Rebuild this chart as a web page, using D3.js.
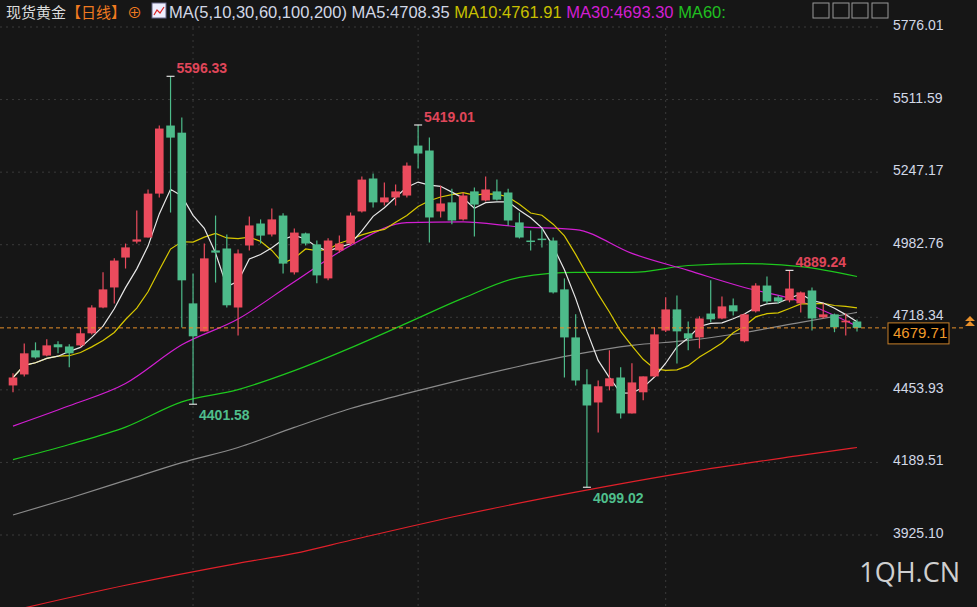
<!DOCTYPE html>
<html>
<head>
<meta charset="utf-8">
<script src="https://cdn.jsdelivr.net/npm/d3@7"></script>
<style>
  html, body { margin: 0; padding: 0; background: #161616; overflow: hidden; }
  svg { display: block; font-family: "Liberation Sans", Arial, sans-serif; }
</style>
</head>
<body>
<div id="chart"></div>
<script>
// OHLC per day
const opens  = [4470,4510,4598,4579,4620,4612,4616,4660,4754,4827,4936,4994,5009,5169,5417,5391,4769,4667,4962,4969,4754,4980,5060,5020,5089,4882,5024,4984,4860,4962,4987,5104,5224,5137,5155,5162,5344,5326,5104,5137,5075,5177,5144,5177,5173,5064,4998,5005,4998,4820,4645,4474,4408,4467,4499,4368,4445,4503,4670,4747,4660,4645,4732,4714,4762,4631,4740,4834,4791,4780,4769,4816,4718,4729,4700,4703];
const highs  = [4514,4623,4627,4638,4631,4620,4681,4762,4882,4933,4987,5107,5184,5417,5596.33,5446,4878,4987,5089,5020,4965,5086,5075,5115,5097,5042,5027,4998,5006,5016,5100,5231,5242,5209,5202,5282,5419.01,5373,5198,5187,5173,5191,5231,5220,5187,5100,5035,5042,5009,4860,4729,4529,4488,4598,4536,4551,4503,4681,4791,4798,4703,4722,4853,4794,4787,4732,4842,4867,4798,4889.24,4812,4827,4769,4732,4732,4710];
const lows   = [4445,4503,4568,4576,4587,4536,4609,4656,4751,4769,4896,4987,5009,5155,5100,4681,4401.58,4667,4845,4754,4652,4962,4987,5013,4878,4874,4980,4842,4853,4954,4980,5100,5118,5126,5126,5155,5260,4991,5082,5057,5071,5013,5140,5144,5053,5005,4962,4973,4805,4499,4470,4099.02,4299,4452,4350,4368,4416,4500,4665,4550,4598,4605,4700,4711,4725,4627,4736,4769,4769,4773,4736,4670,4714,4664,4652,4667];
const closes = [4499,4587,4572,4616,4609,4587,4660,4754,4820,4925,4973,5002,5169,5406,5373,4853,4649,4933,4954,4762,4951,5053,5016,5075,4914,5027,4987,4871,4998,4987,5089,5220,5137,5155,5177,5271,5315,5082,5133,5071,5162,5129,5184,5147,5071,5009,4994,5000,4809,4645,4488,4397,4467,4496,4368,4481,4503,4656,4747,4667,4641,4714,4711,4758,4740,4729,4834,4776,4776,4823,4809,4714,4729,4682,4706,4679.71];

// long moving averages, read every 5 bars
const maIdx   = [0,5,10,15,20,25,30,35,40,45,50,55,60,65,70,75];
const ma30    = [4322,4396,4477,4618,4712,4848,4980,5063,5066,5048,5038,4951,4889,4827,4776,4686];
const ma60    = [4200,4255,4318,4410,4455,4524,4607,4697,4788,4864,4882,4882,4907,4914,4903,4867];
const ma100   = [3998,4059,4124,4189,4244,4317,4386,4441,4492,4540,4583,4616,4634,4663,4700,4736];
const ma200Idx = [0,10,20,25,30,40,50,60,70,75];
const ma200   = [3650,3742,3822,3858,3906,3999,4081,4154,4215,4244];

const yTicks = [5776.01,5511.59,5247.17,4982.76,4718.34,4453.93,4189.51,3925.10];
const vLines = [16, 36, 58];
const extremes = [
  {i: 14, v: 5596.33, up: true}, {i: 16, v: 4401.58, up: false},
  {i: 36, v: 5419.01, up: true}, {i: 51, v: 4099.02, up: false},
  {i: 69, v: 4889.24, up: true}
];

const W = 977, H = 607;
const UP = "#eb4b5d", DOWN = "#4dbb8a";

const svg = d3.select("#chart").append("svg").attr("width", W).attr("height", H);

const x = d3.scaleLinear().domain([0, closes.length - 1]).range([13, 857]);
const y = d3.scaleLinear().domain([3925.10, 5776.01]).range([535, 27]);

// grid
svg.append("g").selectAll("line").data(yTicks).join("line")
  .attr("x1", 0).attr("x2", 880).attr("y1", d => y(d)).attr("y2", d => y(d))
  .attr("stroke", "#3a3a3a").attr("stroke-dasharray", "2,4");
svg.append("g").selectAll("line").data(vLines).join("line")
  .attr("x1", d => x(d)).attr("x2", d => x(d)).attr("y1", 28).attr("y2", H)
  .attr("stroke", "#3a3a3a").attr("stroke-dasharray", "2,4");

svg.append("g").selectAll("text").data(yTicks).join("text")
  .attr("x", 893).attr("y", d => y(d) + 3)
  .attr("fill", "#d2d8e6").attr("font-size", 14).text(d => d.toFixed(2));

// moving averages
const line = d3.line().curve(d3.curveMonotoneX);
function maLine(idx, vals, color) {
  svg.append("path").datum(idx.map((d, k) => [x(d), y(vals[k])]))
    .attr("fill", "none").attr("stroke", color).attr("stroke-width", 1.2).attr("d", line);
}
maLine(ma200Idx, ma200, "#e0202a");
maLine(maIdx, ma100, "#8a8a8a");
maLine(maIdx, ma60, "#1ec81e");
maLine(maIdx, ma30, "#d21ed2");

function movingAvg(n) {
  return closes.map((c, i) => d3.mean(closes.slice(Math.max(0, i - n + 1), i + 1)));
}
const lineStraight = d3.line().x((d, i) => x(i)).y(d => y(d));
svg.append("path").datum(movingAvg(10)).attr("fill", "none").attr("stroke", "#d8c800").attr("stroke-width", 1.2).attr("d", lineStraight);
svg.append("path").datum(movingAvg(5)).attr("fill", "none").attr("stroke", "#e8e8e8").attr("stroke-width", 1.2).attr("d", lineStraight);

// candles
const bw = 8.6;
const candles = svg.append("g").selectAll("g").data(closes.map((c, i) => i)).join("g");
candles.append("line")
  .attr("x1", i => x(i)).attr("x2", i => x(i))
  .attr("y1", i => y(highs[i])).attr("y2", i => y(lows[i]))
  .attr("stroke", i => closes[i] >= opens[i] ? UP : DOWN).attr("stroke-width", 1.2);
candles.append("rect")
  .attr("x", i => x(i) - bw / 2).attr("width", bw)
  .attr("y", i => y(Math.max(opens[i], closes[i])))
  .attr("height", i => Math.max(1.5, Math.abs(y(opens[i]) - y(closes[i]))))
  .attr("fill", i => closes[i] >= opens[i] ? UP : DOWN);

// extremes
extremes.forEach(e => {
  const yy = y(e.v);
  svg.append("line").attr("x1", x(e.i) - 4).attr("x2", x(e.i) + 4).attr("y1", yy).attr("y2", yy)
    .attr("stroke", "#ddd").attr("stroke-width", 1.2);
  svg.append("text").attr("x", x(e.i) + 6).attr("y", e.up ? yy - 3 : yy + 16)
    .attr("fill", e.up ? "#e0465a" : "#4fbf8c").attr("font-size", 14).attr("font-weight", "bold")
    .text(e.v.toFixed(2));
});

// last price
const last = closes[closes.length - 1];
svg.append("line").attr("x1", 0).attr("x2", 965).attr("y1", y(last)).attr("y2", y(last))
  .attr("stroke", "#e8902a").attr("stroke-dasharray", "4,3");
svg.append("rect").attr("x", 888).attr("y", y(last) - 5).attr("width", 61).attr("height", 21)
  .attr("fill", "#000").attr("stroke", "#c8802a");
svg.append("text").attr("x", 893).attr("y", y(last) + 10).attr("fill", "#f09a2a").attr("font-size", 15).text(last.toFixed(2));
svg.append("path").attr("d", `M965,${y(last) - 2} l5,-5 l5,5 Z M965,${y(last) - 7} l5,-5 l5,5 Z`).attr("fill", "#e8902a");

// header
const hdr = svg.append("text").attr("x", 6).attr("y", 18).attr("font-size", 15)
  .attr("font-family", "'Noto Sans CJK SC', sans-serif");
hdr.append("tspan").attr("fill", "#dcdcdc").text("现货黄金");
hdr.append("tspan").attr("fill", "#f07a20").text("【日线】");
hdr.append("tspan").attr("fill", "#f07a20").attr("dx", 1).text("⊕");
svg.append("rect").attr("x", 152).attr("y", 3).attr("width", 14).attr("height", 15).attr("fill", "#eef").attr("stroke", "#668");
svg.append("path").attr("d", "M154,15 l3,-5 l3,3 l4,-6").attr("fill", "none").attr("stroke", "#d22").attr("stroke-width", 1.2);
const ma = svg.append("text").attr("x", 169).attr("y", 18).attr("font-size", 16.5);
ma.append("tspan").attr("fill", "#d2d8e6").text("MA(5,10,30,60,100,200)  MA5:4708.35  ");
ma.append("tspan").attr("fill", "#c8c000").text("MA10:4761.91  ");
ma.append("tspan").attr("fill", "#d21ed2").text("MA30:4693.30  ");
ma.append("tspan").attr("fill", "#20c020").text("MA60:");
[813, 833, 852, 872].forEach(px => {
  svg.append("rect").attr("x", px).attr("y", 3).attr("width", 16).attr("height", 15)
    .attr("fill", "none").attr("stroke", "#999");
});

svg.append("text").attr("x", 960).attr("y", 582).attr("text-anchor", "end")
  .attr("fill", "#cfcfcf").attr("font-size", 27).attr("font-family", "'Open Sans', sans-serif").text("1QH.CN");
</script>
</body>
</html>
